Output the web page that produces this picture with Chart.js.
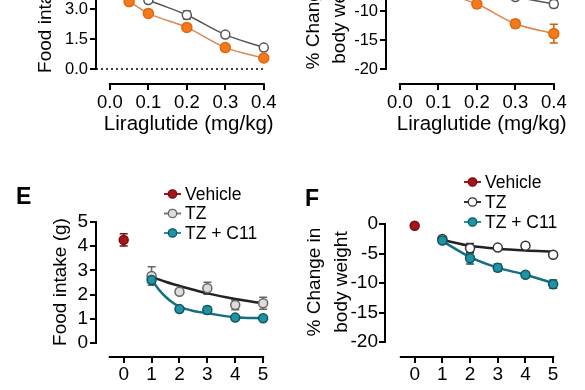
<!DOCTYPE html>
<html>
<head>
<meta charset="utf-8">
<script src="https://cdn.jsdelivr.net/npm/chart.js@4.4.1/dist/chart.umd.min.js"></script>
<style>
  html, body { margin: 0; padding: 0; background: #fff; }
  #fig { position: relative; width: 585px; height: 390px; overflow: hidden;
         font-family: "Liberation Sans", Arial, sans-serif; color: #000; }
  canvas { position: absolute; }
  .yt { position: absolute; white-space: nowrap; font-size: 19px; line-height: 1;
        transform: translate(-50%, -50%) rotate(-90deg); }
  .lab { position: absolute; font-weight: bold; font-size: 23px; line-height: 1; }
</style>
</head>
<body>
<div id="fig">
  <canvas id="tl" width="288" height="214" style="left:0;top:-74px"></canvas>
  <canvas id="tr" width="294" height="214" style="left:290px;top:-74px"></canvas>
  <canvas id="e" width="282" height="220" style="left:0;top:170px"></canvas>
  <canvas id="f" width="282" height="220" style="left:290px;top:170px"></canvas>

  <div class="yt" style="left:44px;top:9px">Food intake (g)</div>
  <div class="yt" style="left:312px;top:15px">% Change in</div>
  <div class="yt" style="left:338px;top:13px">body weight</div>
  <div class="yt" style="left:59px;top:282px">Food intake (g)</div>
  <div class="yt" style="left:313px;top:282px">% Change in</div>
  <div class="yt" style="left:340px;top:282px">body weight</div>
  <div class="lab" style="left:16px;top:185px">E</div>
  <div class="lab" style="left:305px;top:187px">F</div>
</div>

<script>
const FONT = '"Liberation Sans", Arial, sans-serif';

// ---- top panels: liraglutide dose response ----
const liraTicks = [0, 0.1, 0.2, 0.3, 0.4];
const foodTicksTop = [0, 1.5, 3, 4.5, 6];
const bwTicksTop = [-20, -15, -10, -5, 0];

const foodDoseOrange = [0.05, 0.1, 0.2, 0.3, 0.4];
const foodOrange = [3.37, 2.78, 2.08, 1.07, 0.55];
const foodOrangeErr = [0.08, 0.08, 0.1, 0.1, 0.08];
const foodDoseGray = [0.05, 0.1, 0.2, 0.3, 0.4];
const foodGray = [3.9, 3.45, 2.7, 1.72, 1.07];
const foodGrayErr = [0.15, 0.15, 0.2, 0.12, 0.08];

const bwDoseOrange = [0.1, 0.2, 0.3, 0.4];
const bwOrange = [-6.7, -8.8, -12.2, -13.9];
const bwOrangeErr = [0.5, 0.7, 0.7, 1.6];
const bwDoseGray = [0.3, 0.4];
const bwGray = [-7.6, -8.8];
const bwGrayErr = [0.4, 0.6];

// ---- bottom panels: E food intake, F body weight ----
const dayTicks = [0, 1, 2, 3, 4, 5];
const foodTicksE = [0, 1, 2, 3, 4, 5];
const bwTicksF = [-20, -15, -10, -5, 0];
const legendLabels = ["Vehicle", "TZ", "TZ + C11"];

const vehicleDay = [0];
const days = [1, 2, 3, 4, 5];

const eVehicle = [4.26];
const eVehicleErr = [0.25];
const eTZ = [2.77, 2.12, 2.26, 1.57, 1.64];
const eTZErr = [0.38, 0.1, 0.25, 0.2, 0.25];
const eTZC11 = [2.6, 1.4, 1.36, 1.05, 1.02];
const eTZC11Err = [0.1, 0.1, 0.15, 0.08, 0.08];
const eFitDays = [1, 1.25, 1.5, 1.75, 2, 2.5, 3, 4, 5];
const eTZFit = [2.73, 2.63, 2.53, 2.44, 2.36, 2.2, 2.05, 1.82, 1.64];
const eTZC11Fit = [2.64, 2.22, 1.91, 1.67, 1.5, 1.32, 1.23, 1.06, 1.02];

const fVehicle = [-0.3];
const fVehicleErr = [0.2];
const fTZ = [-2.55, -4.1, -4.0, -3.7, -5.2];
const fTZErr = [0.3, 0.8, 0.3, 0.3, 0.3];
const fTZC11 = [-2.8, -5.8, -7.4, -8.6, -10.2];
const fTZC11Err = [0.3, 1.0, 0.6, 0.4, 0.7];
const fFitDays = [1, 2, 3, 4, 5];
const fTZFit = [-2.7, -3.7, -4.2, -4.5, -4.7];
const fTZC11Fit = [-2.9, -5.6, -7.4, -8.6, -10.0];

const ORANGE = "#f27a1c";
const TEAL = "#1e93a6";
const RED = "#a3161a";

const pts = (xs, ys) => xs.map((x, i) => ({ x, y: ys[i] }));

/* ===== PLUGINS ===== */
const errorBars = {
  id: "errorBars",
  beforeDatasetsDraw(chart) {
    const { ctx, scales: { y } } = chart;
    chart.data.datasets.forEach((ds, i) => {
      if (!ds.errors) return;
      const meta = chart.getDatasetMeta(i);
      ctx.save();
      ctx.strokeStyle = ds.errorColor || ds.pointBorderColor;
      ctx.lineWidth = 1.5;
      meta.data.forEach((pt, j) => {
        const e = ds.errors[j];
        if (!e) return;
        const v = ds.data[j].y;
        const top = y.getPixelForValue(v + e);
        const bot = y.getPixelForValue(v - e);
        ctx.beginPath();
        ctx.moveTo(pt.x, top); ctx.lineTo(pt.x, bot);
        ctx.moveTo(pt.x - 4, top); ctx.lineTo(pt.x + 4, top);
        ctx.moveTo(pt.x - 4, bot); ctx.lineTo(pt.x + 4, bot);
        ctx.stroke();
      });
      ctx.restore();
    });
  }
};

// detached (offset) axis lines, Prism style
const axisLines = {
  id: "axisLines",
  afterDraw(chart, args, opts) {
    const { ctx, chartArea, scales: { x, y } } = chart;
    ctx.save();
    ctx.strokeStyle = "#000";
    ctx.lineWidth = 2;
    ctx.lineCap = "square";
    ctx.beginPath();
    ctx.moveTo(chartArea.left, y.getPixelForValue(opts.y[0]));
    ctx.lineTo(chartArea.left, y.getPixelForValue(opts.y[1]));
    ctx.moveTo(x.getPixelForValue(opts.x[0]), chartArea.bottom);
    ctx.lineTo(x.getPixelForValue(opts.x[1]), chartArea.bottom);
    ctx.stroke();
    ctx.restore();
  }
};

const sideLegend = {
  id: "sideLegend",
  afterDraw(chart, args, opts) {
    if (!opts.items) return;
    const ctx = chart.ctx;
    ctx.save();
    ctx.font = "17.5px " + FONT;
    ctx.textBaseline = "middle";
    opts.items.forEach((it, i) => {
      const y = opts.top + i * opts.gap;
      ctx.strokeStyle = it.line;
      ctx.lineWidth = 2;
      ctx.beginPath();
      ctx.moveTo(opts.left, y);
      ctx.lineTo(opts.left + 17, y);
      ctx.stroke();
      ctx.beginPath();
      ctx.arc(opts.left + 8.5, y, 4.2, 0, Math.PI * 2);
      ctx.fillStyle = it.fill;
      ctx.fill();
      ctx.strokeStyle = it.border;
      ctx.lineWidth = 1.3;
      ctx.stroke();
      ctx.fillStyle = "#000";
      ctx.fillText(it.label, opts.left + 21, y + 1);
    });
    ctx.restore();
  }
};

/* ===== PANEL BUILDER ===== */
function panel(id, o) {
  const axis = (ticks, range, font, pad, fmt, size, isX) => ({
    type: "linear",
    min: range[0],
    max: range[1],
    afterBuildTicks: s => { s.ticks = ticks.map(v => ({ value: v })); },
    afterFit: s => { if (isX) s.height = size; else s.width = size; },
    grid: { drawOnChartArea: false, drawTicks: true, tickLength: 6, color: "#000", lineWidth: 2 },
    border: { display: false },
    ticks: {
      autoSkip: false, maxRotation: 0, color: "#000", padding: pad,
      font: { family: FONT, size: font },
      callback: v => fmt(v)
    }
  });

  const x = axis(o.xTicks, o.xRange, o.xFont, o.xPad, o.xFmt, o.xAxisH, true);
  if (o.xTitle) {
    x.title = { display: true, text: o.xTitle, color: "#000",
                font: { family: FONT, size: 20.5 }, padding: { top: 0, bottom: 3 } };
  }
  const y = axis(o.yTicks, o.yRange, o.yFont, o.yPad, o.yFmt, o.yAxisW, false);

  return new Chart(document.getElementById(id), {
    type: "scatter",
    data: { datasets: o.datasets },
    options: {
      responsive: false,
      animation: false,
      devicePixelRatio: 1,
      layout: { padding: { top: o.padTop, right: 4, left: 0, bottom: 0 } },
      plugins: {
        legend: { display: false },
        tooltip: { enabled: false },
        axisLines: { x: o.xLine, y: o.yLine },
        sideLegend: o.legend || {}
      },
      scales: { x, y }
    },
    plugins: [errorBars, axisLines, sideLegend]
  });
}

const marker = (data, fill, border, extra) => Object.assign({
  data, pointRadius: 4.5, pointBorderWidth: 1.5,
  pointBackgroundColor: fill, pointBorderColor: border,
  backgroundColor: fill, borderColor: border
}, extra);

const fitLine = (data, color, width) => ({
  data, showLine: true, pointRadius: 0, borderColor: color, borderWidth: width,
  cubicInterpolationMode: "monotone"
});

document.addEventListener("DOMContentLoaded", () => {
  /* ----- top left: food intake vs dose ----- */
  const tlX = [-0.036, 0.446];
  panel("tl", {
    padTop: 14,
    xTicks: liraTicks, xRange: tlX, xFont: 18.5, xPad: 2, xFmt: v => v.toFixed(1), xAxisH: 56,
    yTicks: foodTicksTop, yRange: [-0.75, 6.45], yFont: 16.5, yPad: 2, yFmt: v => v.toFixed(1), yAxisW: 96,
    xTitle: "Liraglutide (mg/kg)",
    xLine: [0, 0.4], yLine: [0, 6.45],
    datasets: [
      marker(pts(foodDoseOrange, foodOrange), ORANGE, "#e0680e",
        { pointRadius: 5, showLine: true, borderColor: "#dc8650", borderWidth: 1.5,
          cubicInterpolationMode: "monotone", errors: foodOrangeErr, errorColor: "#c9600e" }),
      marker(pts(foodDoseGray, foodGray), "#fff", "#555",
        { showLine: true, borderWidth: 1.5, cubicInterpolationMode: "monotone", errors: foodGrayErr }),
      { data: [{ x: tlX[0], y: 0 }, { x: liraTicks[4], y: 0 }], showLine: true, pointRadius: 0,
        borderColor: "#000", borderWidth: 1.5, borderDash: [2, 3] }
    ]
  });

  /* ----- top right: body weight vs dose ----- */
  panel("tr", {
    padTop: 14,
    xTicks: liraTicks, xRange: [-0.036, 0.4615], xFont: 18.5, xPad: 2, xFmt: v => v.toFixed(1), xAxisH: 56,
    yTicks: bwTicksTop, yRange: [-22.59, 2.24], yFont: 16.5, yPad: 2, yFmt: v => String(v), yAxisW: 96,
    xTitle: "Liraglutide (mg/kg)",
    xLine: [0, 0.4], yLine: [-20, 2.24],
    datasets: [
      marker(pts(bwDoseOrange, bwOrange), ORANGE, "#e0680e",
        { pointRadius: 5, showLine: true, borderColor: "#dc8650", borderWidth: 1.5,
          cubicInterpolationMode: "monotone", errors: bwOrangeErr, errorColor: "#c9600e" }),
      marker(pts(bwDoseGray, bwGray), "#fff", "#555",
        { showLine: true, borderWidth: 1.5, cubicInterpolationMode: "monotone", errors: bwGrayErr })
    ]
  });

  /* ----- E: food intake by day ----- */
  panel("e", {
    padTop: 45,
    xTicks: dayTicks, xRange: [-0.993, 5.461], xFont: 19, xPad: 0, xFmt: v => String(v), xAxisH: 33,
    yTicks: foodTicksE, yRange: [-0.5785, 5.289], yFont: 19, yPad: 2, yFmt: v => String(v), yAxisW: 96,
    xLine: [-0.5, 5], yLine: [0, 5],
    legend: {
      left: 164, top: 24, gap: 19.5,
      items: [
        { label: legendLabels[0], line: RED, fill: RED, border: "#7a0c0f" },
        { label: legendLabels[1], line: "#777", fill: "#ddd", border: "#666" },
        { label: legendLabels[2], line: TEAL, fill: TEAL, border: "#0f5661" }
      ]
    },
    datasets: [
      marker(pts(vehicleDay, eVehicle), RED, "#7a0c0f", { errors: eVehicleErr, errorColor: "#7a0c0f" }),
      marker(pts(days, eTZC11), TEAL, "#0f5661", { errors: eTZC11Err }),
      marker(pts(days, eTZ), "#dcdcdc", "#666", { errors: eTZErr }),
      fitLine(pts(eFitDays, eTZC11Fit), "#13707e", 2.5),
      fitLine(pts(eFitDays, eTZFit), "#222", 2.5)
    ]
  });

  /* ----- F: body weight change by day ----- */
  panel("f", {
    padTop: 45,
    xTicks: dayTicks, xRange: [-1.071, 5.464], xFont: 19, xPad: 0, xFmt: v => String(v), xAxisH: 33,
    yTicks: bwTicksF, yRange: [-22.54, 1.525], yFont: 19, yPad: 1, yFmt: v => String(v), yAxisW: 95,
    xLine: [-0.5, 5], yLine: [-20, 0],
    legend: {
      left: 174, top: 12, gap: 20,
      items: [
        { label: legendLabels[0], line: RED, fill: RED, border: "#7a0c0f" },
        { label: legendLabels[1], line: "#333", fill: "#fff", border: "#333" },
        { label: legendLabels[2], line: TEAL, fill: TEAL, border: "#0f5661" }
      ]
    },
    datasets: [
      marker(pts(vehicleDay, fVehicle), RED, "#7a0c0f", { errors: fVehicleErr, errorColor: "#7a0c0f" }),
      marker(pts(days, fTZC11), TEAL, "#0f5661", { errors: fTZC11Err }),
      marker(pts(days, fTZ), "#fff", "#333", { errors: fTZErr }),
      fitLine(pts(fFitDays, fTZC11Fit), "#13707e", 2.5),
      fitLine(pts(fFitDays, fTZFit), "#222", 2.5)
    ]
  });
});
</script>
</body>
</html>
